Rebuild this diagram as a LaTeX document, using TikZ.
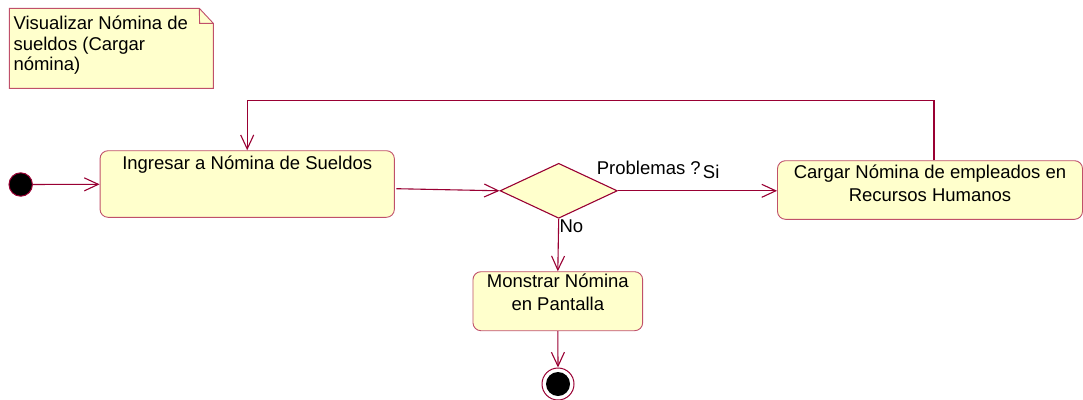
\documentclass[tikz,border=0pt]{standalone}
\usepackage{fontspec}
\setmainfont{Liberation Sans}
\usetikzlibrary{arrows.meta,shapes.geometric,calc}
\definecolor{lineC}{HTML}{990033}
\definecolor{boxC}{HTML}{C0506A}
\definecolor{fillC}{HTML}{FFFFCC}
\tikzset{
  flow/.style={draw=lineC, line width=1.1pt, -{Straight Barb[length=14pt,width=13pt,line width=1.1pt]}},
  activity/.style={draw=boxC, fill=fillC, line width=0.9pt, rounded corners=8pt, inner sep=0pt, align=center},
  decision/.style={diamond, draw=lineC, fill=fillC, line width=1.1pt, inner sep=0pt},
  lbl/.style={inner sep=0pt, anchor=base west, font=\fontsize{18.5}{23}\selectfont},
  txt/.style={font=\fontsize{18.5}{23}\selectfont}
}
\begin{document}
\begin{tikzpicture}[x=1pt,y=-1pt]
\useasboundingbox (0,0) rectangle (1083,399);
% note
\filldraw[draw=boxC, fill=fillC, line width=0.9pt]
  (9.3,8.3) -- (199.3,8.3) -- (213.3,23.3) -- (213.3,88.3) -- (9.3,88.3) -- cycle;
\draw[draw=boxC, line width=0.9pt] (199.3,8.3) -- (199.6,23.3) -- (213.3,23.3);
\node[lbl, align=left, font=\fontsize{18.5}{20.7}\selectfont] (notetxt) at (13.3,70.7)
  {Visualizar Nómina de\\sueldos (Cargar\\nómina)};
% initial
\node[circle, draw=lineC, fill=black, line width=1pt, minimum size=23.4pt, inner sep=0pt] (init) at (20.7,184.5) {};
% activities
\node[activity, txt, minimum width=294.3pt, text height=18.6pt, text depth=48pt] (ing) at (247.2,184) {Ingresar a Nómina de Sueldos};
\node[decision, minimum width=117.3pt, minimum height=55pt] (dec) at (558.7,190.8) {};
\node[activity, txt, minimum width=305pt, minimum height=58.6pt] (carg) at (930,190)
  {Cargar Nómina de empleados en\\Recursos Humanos\rule[-14pt]{0pt}{0pt}};
\node[activity, txt, minimum width=169.7pt, minimum height=59pt] (mon) at (557.8,301.2)
  {Monstrar Nómina\\en Pantalla\rule[-18pt]{0pt}{0pt}};
% final
\node[circle, draw=lineC, fill=white, line width=1pt, minimum size=32pt, inner sep=0pt] (fin) at (558,384) {};
\node[circle, fill=black, minimum size=24pt, inner sep=0pt] (fincore) at (558,384) {};
% labels
\node[lbl] (prob) at (596.7,174) {Problemas ?};
\node[lbl] (si) at (702.7,178.3) {Si};
\node[lbl] (no) at (559.3,232.7) {No};
% connectors
\draw[flow] (init) -- (ing);
\draw[flow] ($(ing.east)+(1.5,4.7)$) -- (dec.west);
\draw[flow] (dec.east) -- (dec.east -| carg.west);
\draw[flow] ($(carg.north)+(4,0)$) -- ++(0,-59.7) -| (ing.north);
\draw[flow] (dec.south) -- (mon.north);
\draw[flow] (mon.south) -- (fin.north);
\end{tikzpicture}
\end{document}
